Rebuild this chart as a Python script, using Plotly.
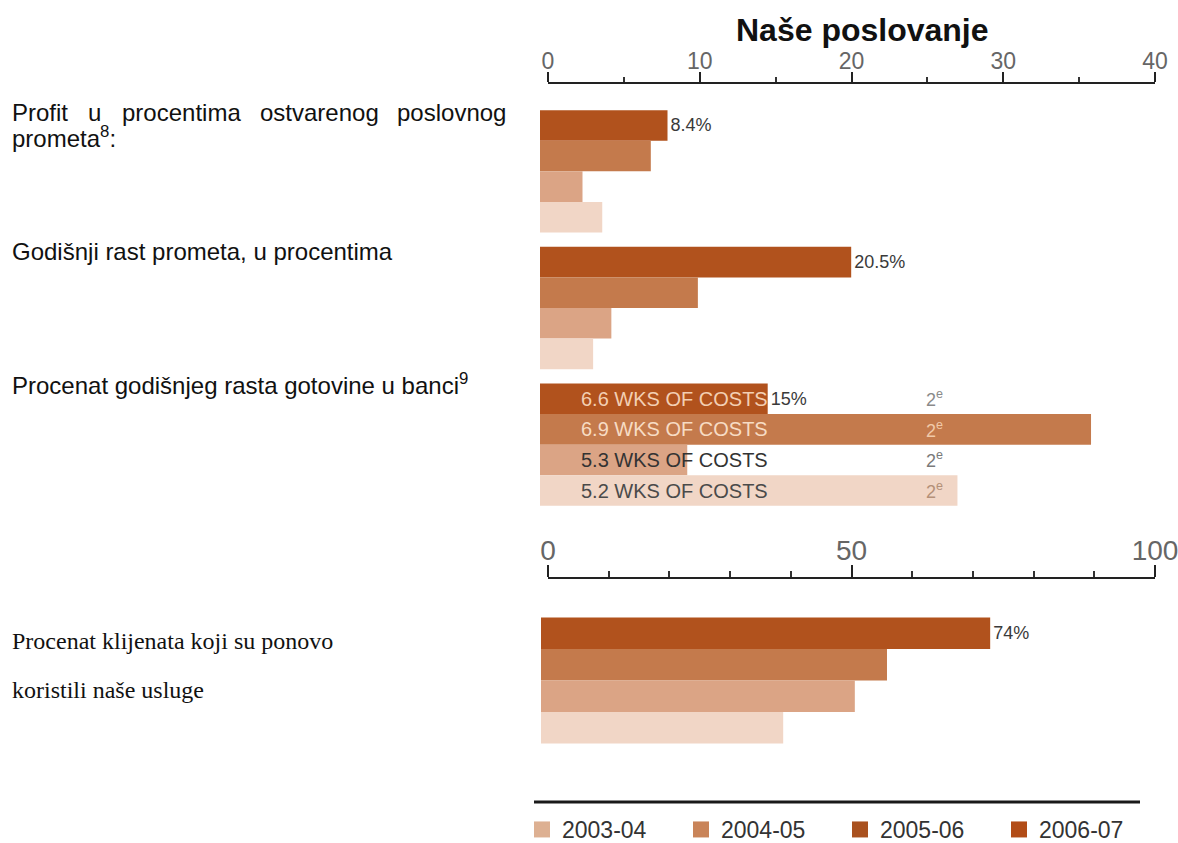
import plotly.graph_objects as go

W, H = 1178, 843

# ---- data ----
seasons = ["2006-07", "2005-06", "2004-05", "2003-04"]          # top-to-bottom inside each group
legend_order = ["2003-04", "2004-05", "2005-06", "2006-07"]

top_categories = [
    "Profit u procentima ostvarenog poslovnog prometa",
    "Godišnji rast prometa, u procentima",
    "Procenat godišnjeg rasta gotovine u banci",
]
top_values = {
    "2006-07": [8.4, 20.5, 15.0],
    "2005-06": [7.3, 10.4, 36.3],
    "2004-05": [2.8, 4.7, 9.7],
    "2003-04": [4.1, 3.5, 27.5],
}
top_value_labels = ["8.4%", "20.5%", "15%"]

bottom_category = ["Procenat klijenata koji su ponovo koristili naše usluge"]
bottom_values = {
    "2006-07": [74.0],
    "2005-06": [57.0],
    "2004-05": [51.7],
    "2003-04": [39.9],
}
bottom_value_labels = ["74%"]

cash_weeks = ["6.6 WKS OF COSTS", "6.9 WKS OF COSTS", "5.3 WKS OF COSTS", "5.2 WKS OF COSTS"]
cash_rank = ["2<sup>e</sup>", "2<sup>e</sup>", "2<sup>e</sup>", "2<sup>e</sup>"]

top_ticks = [0, 10, 20, 30, 40]
bottom_ticks = [0, 50, 100]

# ---- styling ----
bar_colors = {"2006-07": "#b1521d", "2005-06": "#c47a4c", "2004-05": "#dba485", "2003-04": "#f1d6c6"}
legend_colors = {"2003-04": "#ddb092", "2004-05": "#c98459", "2005-06": "#a9511f", "2006-07": "#b24c17"}
weeks_colors = ["#f3cfb3", "#f7dcc4", "#333333", "#4a4a4a"]
rank_colors = ["#8a8a8a", "#f1c9a8", "#7a7a7a", "#b49078"]

SANS = "Liberation Sans, Arial, sans-serif"
SERIF = "Liberation Serif, Times New Roman, serif"


def fx(px):
    return px / W


def fy(py):
    return 1 - py / H


TOP_Y0, TOP_Y1 = 103, 513
BOT_Y0, BOT_Y1 = 610, 751
BARGAP_TOP = 0.105

fig = go.Figure()

for s in seasons:
    fig.add_trace(go.Bar(
        y=top_categories, x=top_values[s], orientation="h",
        marker=dict(color=bar_colors[s], line=dict(width=0)),
        xaxis="x", yaxis="y", showlegend=False, name=s,
        text=top_value_labels if s == "2006-07" else None,
        textposition="outside", cliponaxis=False,
        textfont=dict(family=SANS, size=18, color="#3a3a3a"),
        hoverinfo="skip",
    ))
for s in seasons:
    fig.add_trace(go.Bar(
        y=bottom_category, x=bottom_values[s], orientation="h",
        marker=dict(color=bar_colors[s], line=dict(width=0)),
        xaxis="x2", yaxis="y2", showlegend=False, name=s,
        text=bottom_value_labels if s == "2006-07" else None,
        textposition="outside", cliponaxis=False,
        textfont=dict(family=SANS, size=18, color="#3a3a3a"),
        hoverinfo="skip",
    ))

# invisible anchors so the two scale axes are drawn
fig.add_trace(go.Scatter(x=[0], y=[top_categories[0]], xaxis="x3", yaxis="y", mode="markers",
                         marker=dict(opacity=0), showlegend=False, hoverinfo="skip"))
fig.add_trace(go.Scatter(x=[0], y=[bottom_category[0]], xaxis="x4", yaxis="y2", mode="markers",
                         marker=dict(opacity=0), showlegend=False, hoverinfo="skip"))

# legend entries
for s in legend_order:
    fig.add_trace(go.Scatter(
        x=[None], y=[None], mode="markers", name=s,
        marker=dict(symbol="square", size=16, color=legend_colors[s]),
        xaxis="x", yaxis="y", showlegend=True,
    ))

annotations = []

# labels inside the cash-growth group
band = (TOP_Y1 - TOP_Y0) / len(top_categories)
group_h = band * (1 - BARGAP_TOP)
bar_h = group_h / len(seasons)
for i in range(len(seasons)):
    shift = group_h / 2 - bar_h * (i + 0.5)
    annotations.append(dict(
        x=2.6, y=top_categories[2], xref="x", yref="y", text=cash_weeks[i],
        showarrow=False, xanchor="left", yanchor="middle", yshift=shift,
        font=dict(family=SANS, size=20, color=weeks_colors[i]),
    ))
    annotations.append(dict(
        x=25.3, y=top_categories[2], xref="x", yref="y", text=cash_rank[i],
        showarrow=False, xanchor="left", yanchor="middle", yshift=shift,
        font=dict(family=SANS, size=18, color=rank_colors[i]),
    ))

# left-hand descriptions
def left_text(text, x, y, size, family, anchor="left"):
    annotations.append(dict(
        x=fx(x), y=fy(y), xref="paper", yref="paper", text=text, showarrow=False,
        xanchor=anchor, yanchor="middle", font=dict(family=family, size=size, color="#111111"),
    ))

LABEL_SIZE = 24
first_line = ["Profit", "u", "procentima", "ostvarenog"]
word_x = [10, 86, 120, 258]
for w, x in zip(first_line, word_x):
    left_text(w, x, 112, LABEL_SIZE, SANS)
left_text("poslovnog", 508, 112, LABEL_SIZE, SANS, anchor="right")
left_text("prometa<sup>8</sup>:", 10, 137, LABEL_SIZE, SANS)
left_text("Godišnji rast prometa, u procentima", 10, 252, LABEL_SIZE, SANS)
left_text("Procenat godišnjeg rasta gotovine u banci<sup>9</sup>", 10, 384, LABEL_SIZE, SANS)
left_text("Procenat klijenata koji su ponovo", 10, 641, 24, SERIF)
left_text("koristili naše usluge", 10, 690, 24, SERIF)

# title
annotations.append(dict(
    x=fx(862), y=fy(30), xref="paper", yref="paper", text="<b>Naše poslovanje</b>",
    showarrow=False, xanchor="center", yanchor="middle",
    font=dict(family=SANS, size=32, color="#111111"),
))

tick_axis_common = dict(
    showgrid=False, zeroline=False, showline=True, linecolor="#222222", linewidth=2,
    ticks="outside", tickcolor="#222222", tickwidth=2, side="top",
    anchor="free", fixedrange=True, ticklabelstandoff=-6, ticklabeloverflow="allow",
)

fig.update_layout(
    width=W, height=H,
    margin=dict(l=0, r=0, t=0, b=0, autoexpand=False),
    paper_bgcolor="white", plot_bgcolor="rgba(0,0,0,0)",
    barmode="group", bargap=BARGAP_TOP, bargroupgap=0,
    showlegend=True,
    legend=dict(
        orientation="h", x=fx(522), y=fy(808), xanchor="left", yanchor="top",
        entrywidth=114, entrywidthmode="pixels", itemsizing="trace",
        font=dict(family=SANS, size=23, color="#333333"), bgcolor="rgba(0,0,0,0)",
        traceorder="normal",
    ),
    xaxis=dict(domain=[fx(540), fx(540 + 607.2)], range=[0, 40], visible=False, fixedrange=True),
    yaxis=dict(domain=[fy(TOP_Y1), fy(TOP_Y0)], autorange="reversed", visible=False,
               type="category", fixedrange=True),
    xaxis2=dict(domain=[fx(541), fx(541 + 607)], range=[0, 100], visible=False, anchor="y2",
                fixedrange=True),
    yaxis2=dict(domain=[fy(BOT_Y1), fy(BOT_Y0)], autorange="reversed", visible=False,
                type="category", anchor="x2", fixedrange=True),
    xaxis3=dict(
        domain=[fx(548), fx(1155)], range=[0, 40], position=fy(83),
        tickvals=top_ticks, ticklen=10,
        tickfont=dict(family=SANS, size=23, color="#666666"),
        minor=dict(dtick=5, tick0=0, ticks="outside", ticklen=5, tickcolor="#333333", tickwidth=2),
        **tick_axis_common,
    ),
    xaxis4=dict(
        domain=[fx(548), fx(1155)], range=[0, 100], position=fy(578),
        tickvals=bottom_ticks, ticklen=12,
        tickfont=dict(family=SANS, size=28, color="#666666"),
        minor=dict(dtick=10, tick0=0, ticks="outside", ticklen=6, tickcolor="#333333", tickwidth=2),
        **tick_axis_common,
    ),
    annotations=annotations,
    shapes=[dict(type="line", xref="paper", yref="paper", x0=fx(534), x1=fx(1140),
                 y0=fy(802), y1=fy(802), line=dict(color="#1a1a1a", width=3))],
)

fig.write_html("out.html")
